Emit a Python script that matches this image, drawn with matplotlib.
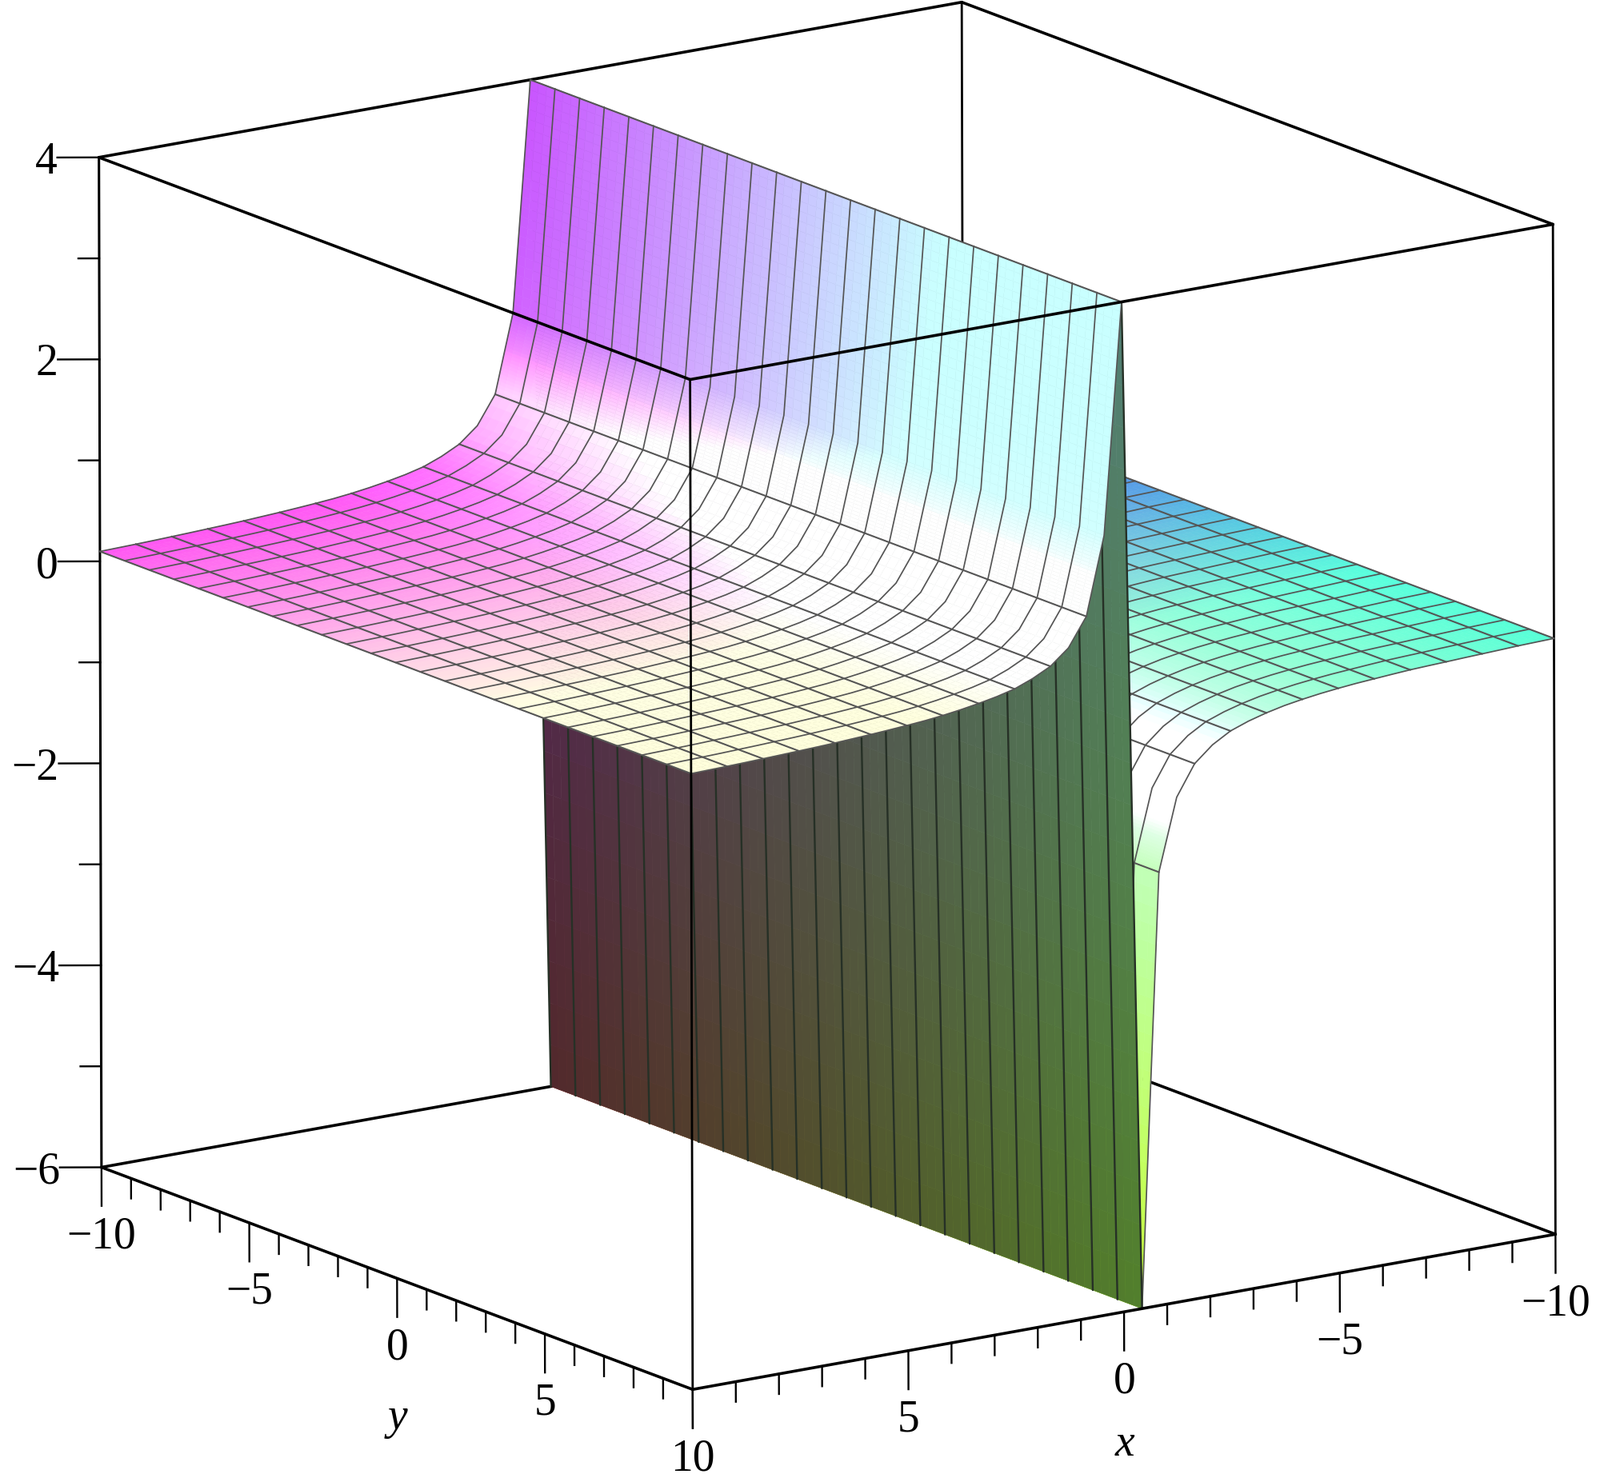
import numpy as np
import matplotlib
matplotlib.use("Agg")
import matplotlib.pyplot as plt
from mpl_toolkits.mplot3d import proj3d

plt.rcParams['font.family'] = ['Liberation Serif', 'DejaVu Serif']

# ---------- data ----------
x_values = [-10.0, -9.583, -9.167, -8.75, -8.333, -7.917, -7.5, -7.083, -6.667, -6.25,
            -5.833, -5.417, -5.0, -4.583, -4.167, -3.75, -3.333, -2.917, -2.5, -2.083,
            -1.667, -1.25, -0.833, -0.417, 0.0, 0.417, 0.833, 1.25, 1.667, 2.083,
            2.5, 2.917, 3.333, 3.75, 4.167, 4.583, 5.0, 5.417, 5.833, 6.25,
            6.667, 7.083, 7.5, 7.917, 8.333, 8.75, 9.167, 9.583, 10.0]
z_values = [-0.10, -0.105, -0.11, -0.118, -0.125, -0.132, -0.14, -0.147, -0.155, -0.167,
            -0.18, -0.193, -0.21, -0.23, -0.255, -0.285, -0.325, -0.375, -0.44, -0.545,
            -0.70, -1.0, -1.71, -6.0, 4.0, 1.72, 0.95, 0.67, 0.52, 0.43,
            0.36, 0.315, 0.28, 0.25, 0.225, 0.205, 0.19, 0.177, 0.165, 0.155,
            0.145, 0.137, 0.13, 0.123, 0.117, 0.111, 0.106, 0.102, 0.098]
y_values = [-10.0, -9.167, -8.333, -7.5, -6.667, -5.833, -5.0, -4.167, -3.333, -2.5, -1.667,
            -0.833, 0.0, 0.833, 1.667, 2.5, 3.333, 4.167, 5.0, 5.833, 6.667, 7.5, 8.333, 9.167, 10.0]
x_limits = [-10, 10]
y_limits = [-10, 10]
z_limits = [-6, 4]
x_major = [-10, -5, 0, 5, 10]
y_major = [-10, -5, 0, 5, 10]
z_major = [-6, -4, -2, 0, 2, 4]
x_minor = [v for v in range(-10, 11) if v % 5]
y_minor = [v for v in range(-10, 11) if v % 5]
z_minor = [-5, -3, -1, 1, 3]
x_tick_labels = ['\u221210', '\u22125', '0', '5', '10']
y_tick_labels = ['\u221210', '\u22125', '0', '5', '10']
z_tick_labels = ['\u22126', '\u22124', '\u22122', '0', '2', '4']

# ---------- camera ----------
ELEV, AZIM, ROLL = 15.02, 55.62, 0.145
BOX_PX = np.array([1307.4, 1307.4, 1307.4])     # edge lengths on screen, pixels
W = 2100.0                                      # side of the square axes, pixels
FIG_W, FIG_H = 2000, 1848
CENTER = (1034.0, 870.0)                        # screen position of the box centre

fig = plt.figure(figsize=(FIG_W / 100, FIG_H / 100), dpi=100)
left = CENTER[0] - W * 0.095 / 0.185
bottom = (FIG_H - CENTER[1]) - W * 0.095 / 0.185
ax = fig.add_axes([left / FIG_W, bottom / FIG_H, W / FIG_W, W / FIG_H],
                  projection='3d', computed_zorder=False)
ax.set_proj_type('ortho')
ax.view_init(elev=ELEV, azim=AZIM, roll=ROLL)
norm = np.linalg.norm(BOX_PX)
zoom = BOX_PX[0] / (BOX_PX[0] / norm * 1.8294640721620434 * 25 / 24 / 10 * W / 0.185)
ax.set_box_aspect(tuple(BOX_PX), zoom=zoom)
ax.set_xlim(*x_limits, view_margin=0)
ax.set_ylim(*y_limits, view_margin=0)
ax.set_zlim(*z_limits, view_margin=0)
ax.set_axis_off()

xv = np.array(x_values)
zv = np.array(z_values)
yv = np.array(y_values)


def light(z):
    return np.interp(np.abs(z), [0, 0.2, 0.35, 0.6, 1.0, 1.4, 1.75, 2.4, 6],
                     [0.34, 0.34, 0.43, 0.66, 0.80, 0.52, 0.38, 0.36, 0.30])


def light_red(z):
    return np.interp(np.abs(z), [0, 0.2, 0.35, 0.6, 1.0, 1.4, 1.75, 2.4, 6],
                     [0.34, 0.34, 0.43, 0.66, 0.80, 0.42, 0.30, 0.28, 0.30])


def top_colors(X, Y, Z):
    r = (X + 10) / 20
    g = (Y + 10) / 20
    b = (Z + 6) / 10
    return np.clip(np.dstack([r + light_red(Z), g * 0.95 + light(Z), b + light(Z) - 0.09 * g,
                              np.ones_like(r)]), 0, 1)


def wall_colors(X, Y, Z):
    g = (Y + 10) / 20
    b = (Z + 6) / 10
    return np.clip(np.dstack([0.32 + 0 * g, 0.16 + 0.34 * g, 0.17 + 0.29 * b, np.ones_like(g)]), 0, 1)


def facets(i0, i1):
    """Split the straight facets of a section into small ones so that its colour runs smoothly."""
    t = [float(i0)]
    for i in range(i0, i1):
        n = 24 if abs(zv[i + 1] - zv[i]) > 0.4 else 3
        t.extend(i + (j + 1) / n for j in range(n))
    t = np.array(t)
    idx = np.arange(len(xv))
    xf = np.interp(t, idx, xv)
    zf = np.interp(t, idx, zv)
    yf = np.interp(np.arange(0, len(yv) - 1 + 1e-9, 1 / 3), np.arange(len(yv)), yv)
    X, Y = np.meshgrid(xf, yf, indexing='ij')
    Z = np.repeat(zf[:, None], len(yf), axis=1)
    return X, Y, Z


def section(i0, i1, colorfn, z_face, line_rows, line_color, lw_along, lw_across):
    X, Y, Z = facets(i0, i1)
    cx = (X[:-1, :-1] + X[1:, 1:]) / 2
    cy = (Y[:-1, :-1] + Y[1:, 1:]) / 2
    cz = (Z[:-1, :-1] + Z[1:, 1:]) / 2
    ax.plot_surface(X, Y, Z, facecolors=colorfn(cx, cy, cz), rstride=1, cstride=1,
                    shade=False, linewidth=0.4, zorder=z_face)
    for y in yv:
        ax.plot(xv[i0:i1 + 1], np.full(i1 - i0 + 1, y), zv[i0:i1 + 1],
                color=line_color, lw=lw_along, zorder=z_face + 0.5, solid_capstyle='round')
    for i in line_rows:
        ax.plot(np.full(len(yv), xv[i]), yv, np.full(len(yv), zv[i]),
                color=line_color, lw=lw_across, zorder=z_face + 0.5)


LINE = '#555555'
xa, xb = x_limits
ya, yb = y_limits
za, zb = z_limits
BOX_KW = dict(color='black', solid_capstyle='round')
# back lines of the box
for xs, ys, zs, lw in [
        ([xa, xb], [ya, ya], [zb, zb], 2.6), ([xa, xa], [ya, yb], [zb, zb], 2.6),
        ([xa, xb], [ya, ya], [za, za], 2.6), ([xa, xa], [ya, yb], [za, za], 2.6),
        ([xa, xa], [ya, ya], [za, zb], 2.0), ([xa, xa], [yb, yb], [za, zb], 2.0),
        ([xb, xb], [ya, ya], [za, zb], 2.2)]:
    ax.plot(xs, ys, zs, lw=lw, zorder=1, **BOX_KW)

# surface: the part behind the jump, the jump, the part in front of it
section(0, 23, top_colors, 2, range(0, 23, 2), LINE, 1.25, 1.5)
section(23, 24, wall_colors, 4, [], '#263026', 1.7, 1.7)
section(24, 48, top_colors, 6, range(24, 49, 2), LINE, 1.25, 1.5)

# front lines of the box
for xs, ys, zs, lw in [
        ([xb, xb], [ya, yb], [zb, zb], 2.6), ([xa, xb], [yb, yb], [zb, zb], 2.6),
        ([xb, xb], [ya, yb], [za, za], 2.6), ([xa, xb], [yb, yb], [za, za], 2.6),
        ([xb, xb], [yb, yb], [za, zb], 2.0)]:
    ax.plot(xs, ys, zs, lw=lw, zorder=10, **BOX_KW)

# ---------- ticks ----------
MAJOR = 50 / (BOX_PX[2] / (zb - za))
MINOR = 26 / (BOX_PX[2] / (zb - za))
LABEL = 90 / (BOX_PX[2] / (zb - za))
for v in x_major:
    ax.plot([v, v], [yb, yb], [za, za - MAJOR], color='black', lw=1.7, zorder=9)
for v in x_minor:
    ax.plot([v, v], [yb, yb], [za, za - MINOR], color='black', lw=1.7, zorder=9)
for v in y_major:
    ax.plot([xb, xb], [v, v], [za, za - MAJOR], color='black', lw=1.7, zorder=9)
for v in y_minor:
    ax.plot([xb, xb], [v, v], [za, za - MINOR], color='black', lw=1.7, zorder=9)

phi = np.radians(AZIM)
sx = np.sin(phi) * (xb - xa) / BOX_PX[0]
sy = -np.cos(phi) * (yb - ya) / BOX_PX[1]
for v in z_major:
    ax.plot([xb, xb + 52 * sx], [ya, ya + 52 * sy], [v, v], color='black', lw=1.7, zorder=9)
for v in z_minor:
    ax.plot([xb, xb + 26 * sx], [ya, ya + 26 * sy], [v, v], color='black', lw=1.7, zorder=9)

FS = 40
proj = ax.get_proj()


def label(x, y, z, s, **kw):
    px, py, _ = proj3d.proj_transform(x, y, z, proj)
    ax.text2D(px, py, s, transform=ax.transData, fontsize=FS, zorder=11, color='black', **kw)


for v, s in zip(z_major, z_tick_labels):
    label(xb + 52 * sx, ya + 52 * sy, v, s, ha='right', va='center_baseline')
for v, s in zip(x_major, x_tick_labels):
    if v == xb:
        continue
    label(v, yb, za - LABEL, s, ha='center', va='center')
for v, s in zip(y_major, y_tick_labels):
    label(xb, v, za - LABEL, s, ha='center', va='center')
label(0, yb, za - 1.31, 'x', ha='center', va='center', style='italic')
label(xb, 0, za - 1.38, 'y', ha='center', va='center', style='italic')

fig.savefig('out.png', dpi=100, facecolor='white')
